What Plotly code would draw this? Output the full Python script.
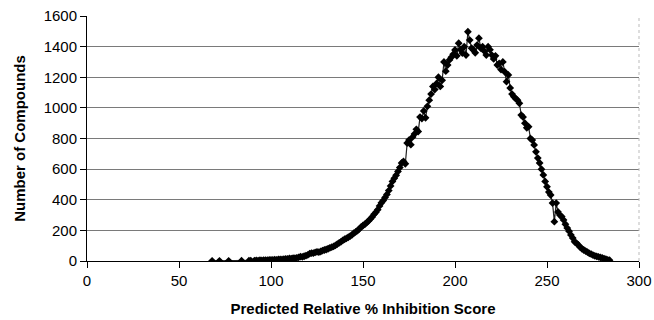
import plotly.graph_objects as go

# Predicted Relative %Inhibition Score (bin centre) and number of compounds
score = [68, 72, 77, 84, 88, 89, 91, 92, 93, 94, 95, 96, 97, 98, 99,
         100, 101, 102, 103, 104, 105, 106, 107, 108, 109,
         110, 111, 112, 113, 114, 115, 116, 117, 118, 119,
         120, 121, 122, 123, 124, 125, 126, 127, 128, 129,
         130, 131, 132, 133, 134, 135, 136, 137, 138, 139,
         140, 141, 142, 143, 144, 145, 146, 147, 148, 149,
         150, 151, 152, 153, 154, 155, 156, 157, 158, 159,
         160, 161, 162, 163, 164, 165, 166, 167, 168, 169,
         170, 171, 172, 173, 174, 175, 176, 177, 178, 179,
         180, 181, 182, 183, 184, 185, 186, 187, 188, 189,
         190, 191, 192, 193, 194, 195, 196, 197, 198, 199,
         200, 201, 202, 203, 204, 205, 206, 207, 208, 209,
         210, 211, 212, 213, 214, 215, 216, 217, 218, 219,
         220, 221, 222, 223, 224, 225, 226, 227, 228, 229,
         230, 231, 232, 233, 234, 235, 236, 237, 238, 239,
         240, 241, 242, 243, 244, 245, 246, 247, 248, 249,
         250, 251, 252, 253, 254, 255, 256, 257, 258, 259,
         260, 261, 262, 263, 264, 265, 266, 267, 268, 269,
         270, 271, 272, 273, 274, 275, 276, 277, 278, 279,
         280, 281, 282, 283, 284]
compounds = [1, 1, 1, 2, 2, 3, 3, 4, 3, 5, 4, 5, 6, 5, 7,
             8, 7, 9, 8, 10, 11, 10, 12, 14, 13,
             17, 16, 19, 18, 21, 24, 28, 27, 31, 35,
             40, 48, 52, 51, 56, 60, 58, 62, 68, 72,
             75, 80, 86, 90, 95, 102, 110, 118, 125, 135,
             142, 148, 155, 162, 170, 182, 190, 198, 210, 222,
             232, 240, 250, 262, 275, 288, 305, 318, 335, 360,
             380, 395, 415, 435, 460, 490, 520, 540, 560, 585,
             610, 640, 650, 635, 770, 790, 760, 810, 830, 860,
             845, 940, 930, 980, 935, 1010, 1050, 1090, 1140, 1120,
             1160, 1200, 1140, 1180, 1300, 1240, 1280, 1313, 1330, 1350,
             1378, 1340, 1422, 1380, 1358, 1400, 1345, 1497, 1443, 1390,
             1378, 1360, 1410, 1455, 1390, 1400, 1370, 1345, 1400, 1380,
             1345, 1320, 1340, 1280, 1290, 1250, 1300, 1236, 1171, 1215,
             1130, 1090, 1073, 1060, 1050, 1030, 953, 940, 900, 870,
             877, 800, 790, 758, 713, 672, 640, 600, 562, 520,
             485, 450, 431, 378, 257, 378, 320, 300, 290, 268,
             240, 215, 195, 170, 150, 125, 117, 105, 90, 80,
             72, 65, 58, 50, 45, 39, 34, 30, 27, 23,
             20, 16, 12, 8, 5]

x_ticks = [0, 50, 100, 150, 200, 250, 300]
y_ticks = [0, 200, 400, 600, 800, 1000, 1200, 1400, 1600]

FONT = "Liberation Sans, Arial, sans-serif"

fig = go.Figure()
fig.add_trace(go.Scatter(
    x=score, y=compounds, mode="lines+markers",
    line=dict(color="#222222", width=1.2),
    marker=dict(symbol="diamond", size=6, color="black"),
    showlegend=False,
))

fig.update_layout(
    width=654, height=320,
    margin=dict(l=87, r=15, t=16, b=59, autoexpand=False),
    paper_bgcolor="white", plot_bgcolor="white",
    font=dict(family=FONT, size=15, color="black"),
    xaxis=dict(
        range=[0, 300], tickvals=x_ticks, ticks="outside", ticklen=6,
        tickcolor="black", showline=True, linecolor="black", linewidth=1,
        showgrid=False, zeroline=False, automargin=False,
        title=dict(text="<b>Predicted Relative % Inhibition Score</b>",
                   font=dict(size=15), standoff=15),
        tickfont=dict(size=15),
    ),
    yaxis=dict(
        range=[0, 1600], tickvals=y_ticks, ticks="outside", ticklen=6,
        tickcolor="black", showline=True, linecolor="black", linewidth=1,
        showgrid=True, gridcolor="#7a7a7a", gridwidth=1, zeroline=False,
        automargin=False,
        title=dict(text="<b>Number of Compounds</b>", font=dict(size=15),
                   standoff=14),
        tickfont=dict(size=15),
    ),
)

fig.add_shape(type="line", xref="paper", yref="paper", x0=1, x1=1, y0=0, y1=1,
              line=dict(color="#bbbbbb", width=1, dash="dot"))

fig.write_html("out.html")
